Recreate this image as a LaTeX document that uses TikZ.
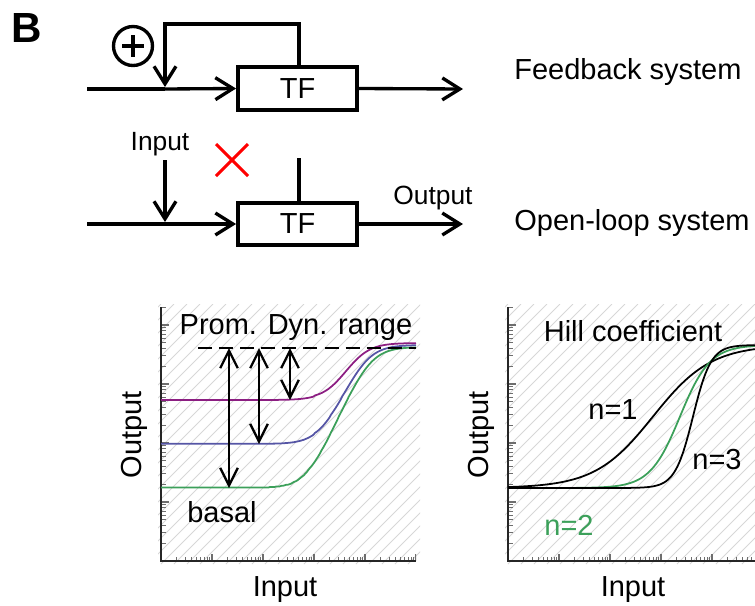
\documentclass[tikz,border=0pt]{standalone}
\usepackage{fontspec}
\setmainfont{Liberation Sans}
\usepackage{xcolor}
\usetikzlibrary{arrows.meta,positioning,calc}

\definecolor{promPurple}{RGB}{140,30,130}
\definecolor{promBlue}{RGB}{85,85,165}
\definecolor{promGreen}{RGB}{60,160,90}
\definecolor{hatchGray}{RGB}{215,215,215}
\definecolor{tickGray}{RGB}{110,110,110}

\begin{document}
\begin{tikzpicture}[
    x=0.02cm, y=-0.02cm,
    font=\fontsize{16.5}{19}\selectfont,
    wire/.style={line width=1.9pt},
    sig/.style={line width=1.9pt, -{Straight Barb[length=10pt,width=12.5pt,line width=1.9pt]}},
    tfbox/.style={rectangle, draw, line width=2.5pt, minimum width=2.37cm, minimum height=0.85cm, inner sep=0pt},
    label/.style={inner sep=0pt},
    smalllabel/.style={inner sep=0pt, font=\fontsize{15}{18}\selectfont},
    rangearrow/.style={line width=1.3pt, {Straight Barb[length=10pt,width=10pt,line width=1.3pt]}-{Straight Barb[length=10pt,width=10pt,line width=1.3pt]}},
    curve/.style={line width=1pt},
    hatch/.style={hatchGray, line width=0.5pt},
    declare function={
        hillL(\u,\c,\b)=-59*log10(\b+(1-\b)*(10^(2*(\u-\c)/51))/(1+10^(2*(\u-\c)/51)));
        hillR(\u,\c,\w)=exp((\u-\c)/\w)/(1+exp((\u-\c)/\w));
    }
]
\useasboundingbox (0,0) rectangle (755,606);

% panel letter
\node[label, font=\fontsize{24}{27}\selectfont\bfseries] (panel) at (27,28) {B};

% feedback system
\node[tfbox] (tf1) at (297.5,88.5) {TF};
\coordinate (in1) at (87,89);
\coordinate (j1) at (165,89);
\coordinate (out1) at (463,89);
\coordinate (fbtop) at (299,24);
\draw[wire] (in1) -- (j1);
\draw[sig] (j1) -- (tf1.west);
\draw[sig] (tf1.east) -- (out1);
\draw[sig] (tf1.north -| fbtop) -- (fbtop) -| ($(j1)+(0,-2)$);
\node[circle, draw, line width=1.9pt, minimum size=0.78cm, inner sep=0pt] (plus) at (133,46) {};
\draw[line width=2.4pt] ($(plus)+(-11,0)$) -- ($(plus)+(11,0)$)
    ($(plus)+(0,-11)$) -- ($(plus)+(0,11)$);
\node[label, anchor=west] (fblabel) at (514,72) {Feedback system};

% open-loop system
\node[tfbox] (tf2) at (297.5,224) {TF};
\coordinate (in2) at (87,224);
\coordinate (j2) at (165,224);
\coordinate (out2) at (463,224);
\coordinate (stub) at (299,158);
\coordinate (intop) at (165,160);
\draw[wire] (in2) -- (j2);
\draw[sig] (j2) -- (tf2.west);
\draw[sig] (tf2.east) -- (out2);
\draw[wire] (tf2.north -| stub) -- (stub);
\draw[sig] (intop) -- ($(j2)+(0,-2)$);
\node[smalllabel] (inlabel) at (160,144) {Input};
\node[smalllabel] (outlabel) at (433,198) {Output};
\coordinate (cross) at (232,160);
\draw[red, line width=1.8pt] ($(cross)+(-16,-16)$) -- ($(cross)+(16,16)$)
    ($(cross)+(-16,16)$) -- ($(cross)+(16,-16)$);
\node[label, anchor=west] (ollabel) at (514,223) {Open-loop system};

% left plot: promoter dynamic range
\begin{scope}
  \clip (158,304) rectangle (420,564);
  \foreach \i in {-20,...,20}
    \draw[hatch] (161+\i*13,564) -- (161+\i*13+260,304);
\end{scope}
\begin{scope}
  \clip (161,307) rectangle (416,561);
  \foreach \k in {0,...,4} {
    \draw[tickGray, line width=0.6pt] (161,{561-(\k+1)*59}) -- ++(8,0);
    \foreach \m in {2,...,9}
      \draw[tickGray, line width=0.6pt] (161,{561-(\k+log10(\m))*59}) -- ++(4.5,0);
    \draw[tickGray, line width=0.6pt] ({161+(\k+1)*51},561) -- ++(0,-7);
    \foreach \m in {2,...,9}
      \draw[tickGray, line width=0.6pt] ({161+(\k+log10(\m))*51},561) -- ++(0,-4);
  }
\end{scope}
\draw[black!85, line width=0.8pt] (161,307) -- (161,561) -- (416,561);
\draw[promGreen, curve] plot[domain=161:416, samples=160] (\x, {347+hillL(\x,369,0.00406)});
\draw[promBlue, curve] plot[domain=161:416, samples=160] (\x, {345+hillL(\x,365,0.0210)});
\draw[promPurple, curve] plot[domain=161:416, samples=160] (\x, {343+hillL(\x,358,0.108)});
\coordinate (dynL) at (198,348);
\coordinate (dynR) at (416,348);
\draw[dashed, line width=1.1pt, dash pattern=on 8pt off 4pt] (dynL) -- (dynR);
\coordinate (basalG) at (229,488);
\coordinate (basalB) at (259,444);
\coordinate (basalP) at (290,400);
\draw[rangearrow] (basalG |- dynL) -- (basalG);
\draw[rangearrow] (basalB |- dynL) -- (basalB);
\draw[rangearrow] (basalP |- dynL) -- (basalP);
\node[label] (promlabel) at (296,328) {Prom. Dyn. range};
\node[label] (basallabel) at (222,512) {basal};
\node[label, rotate=90] (yleft) at (134,435) {Output};
\node[label] (xleft) at (285,590) {Input};

% right plot: Hill coefficient
\begin{scope}
  \clip (505,304) rectangle (755,564);
  \foreach \i in {-20,...,20}
    \draw[hatch] (508+\i*13,564) -- (508+\i*13+260,304);
\end{scope}
\begin{scope}
  \clip (508,307) rectangle (755,561);
  \foreach \k in {0,...,4} {
    \draw[tickGray, line width=0.6pt] (508,{561-(\k+1)*59}) -- ++(8,0);
    \foreach \m in {2,...,9}
      \draw[tickGray, line width=0.6pt] (508,{561-(\k+log10(\m))*59}) -- ++(4.5,0);
    \draw[tickGray, line width=0.6pt] ({508+(\k+1)*51},561) -- ++(0,-7);
    \foreach \m in {2,...,9}
      \draw[tickGray, line width=0.6pt] ({508+(\k+log10(\m))*51},561) -- ++(0,-4);
  }
\end{scope}
\draw[black!85, line width=0.8pt] (508,307) -- (508,561) -- (755,561);
\draw[black, curve] plot[domain=508:755, samples=160] (\x, {488-143*hillR(\x,653,29)});
\draw[promGreen, curve] plot[domain=508:755, samples=160] (\x, {488-143*hillR(\x,680,15)});
\draw[black, curve] plot[domain=508:755, samples=160] (\x, {488-143*hillR(\x,693,9)});
\node[label] (hilllabel) at (633,331) {Hill coefficient};
\node[label] (n1) at (613,410) {n=1};
\node[label] (n3) at (717,460) {n=3};
\node[label, text=promGreen] (n2) at (569,525) {n=2};
\node[label, rotate=90] (yright) at (481,435) {Output};
\node[label] (xright) at (633,590) {Input};
\end{tikzpicture}
\end{document}
